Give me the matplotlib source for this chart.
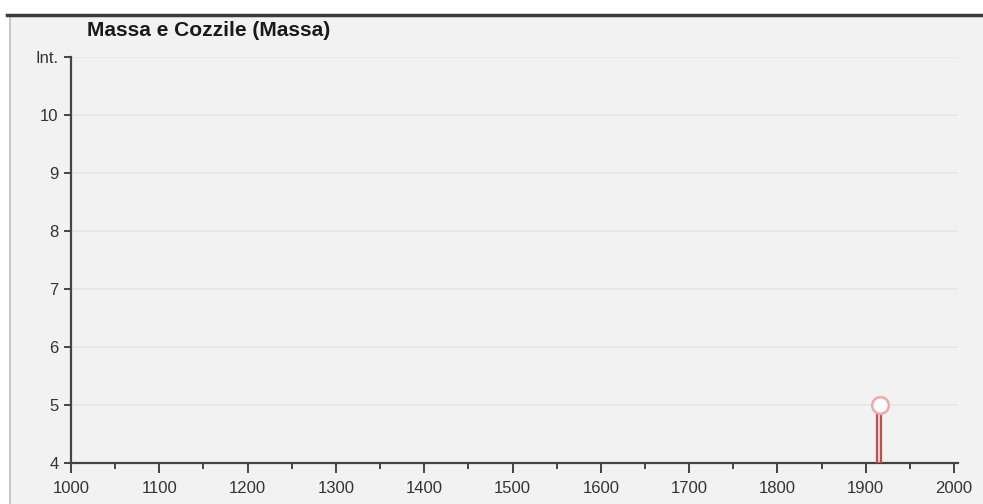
import matplotlib.pyplot as plt
import matplotlib.patches as mpatches
import matplotlib.lines as mlines

# Data
years = [1915]
intensity = [5]
base_int = 4

title = "Massa e Cozzile (Massa)"
x_ticks = [1000, 1100, 1200, 1300, 1400, 1500, 1600, 1700, 1800, 1900, 2000]
y_ticks = [4, 5, 6, 7, 8, 9, 10, 11]
y_labels = ["4", "5", "6", "7", "8", "9", "10", "Int."]

plt.rcParams["font.family"] = ["Liberation Sans", "DejaVu Sans"]

fig = plt.figure(figsize=(9.83, 5.04), dpi=100, facecolor="white")

# gray panel with dark top rule
fig.patches.append(mpatches.Rectangle((10 / 983, 0), 1, 1 - 16 / 504, transform=fig.transFigure,
                                      facecolor="#f2f2f2", edgecolor="none", zorder=-10))
fig.lines.append(mlines.Line2D([10 / 983, 10 / 983], [0, 1 - 16 / 504], transform=fig.transFigure,
                               color="#c8c8c8", lw=1.5, zorder=-9))
fig.lines.append(mlines.Line2D([7 / 983, 1], [1 - 14.5 / 504, 1 - 14.5 / 504], transform=fig.transFigure,
                               color="#3a3a3a", lw=2.5, zorder=-9))

ax = fig.add_axes([71 / 983, 41 / 504, 887 / 983, 406 / 504])
ax.set_facecolor("none")
ax.set_xlim(1000, 2004.5)
ax.set_ylim(4, 11)

for y in y_ticks[1:]:
    ax.axhline(y, color="#e6e6e6", lw=1.2, zorder=0)

# event stem + marker
for x, v in zip(years, intensity):
    ax.bar(x, v - base_int, bottom=base_int, width=5, facecolor="#f6dede",
           edgecolor="#c0504d", lw=1.6, zorder=3)
    ax.plot(x + 1.5, v, "o", ms=12, mfc="white", mec="#f0a8a8", mew=1.8, zorder=4)

for s in ["top", "right"]:
    ax.spines[s].set_visible(False)
for s in ["left", "bottom"]:
    ax.spines[s].set_color("#444444")
    ax.spines[s].set_linewidth(1.6)

ax.set_xticks(x_ticks)
ax.set_xticks(range(1050, 2000, 100), minor=True)
ax.set_yticks(y_ticks)
ax.set_yticklabels(y_labels)
ax.tick_params(axis="x", which="major", length=7, width=1.4, color="#444444",
               labelsize=12, labelcolor="#333333", pad=6)
ax.tick_params(axis="x", which="minor", length=4, width=1.4, color="#444444")
ax.tick_params(axis="y", which="major", length=5, width=1.4, color="#444444",
               labelsize=12, labelcolor="#333333", pad=4)

fig.text(87 / 983, 1 - 30 / 504, title, fontsize=15, fontweight="bold", color="#1a1a1a",
         va="center", ha="left")

fig.savefig("out.png", dpi=100, facecolor="white")
